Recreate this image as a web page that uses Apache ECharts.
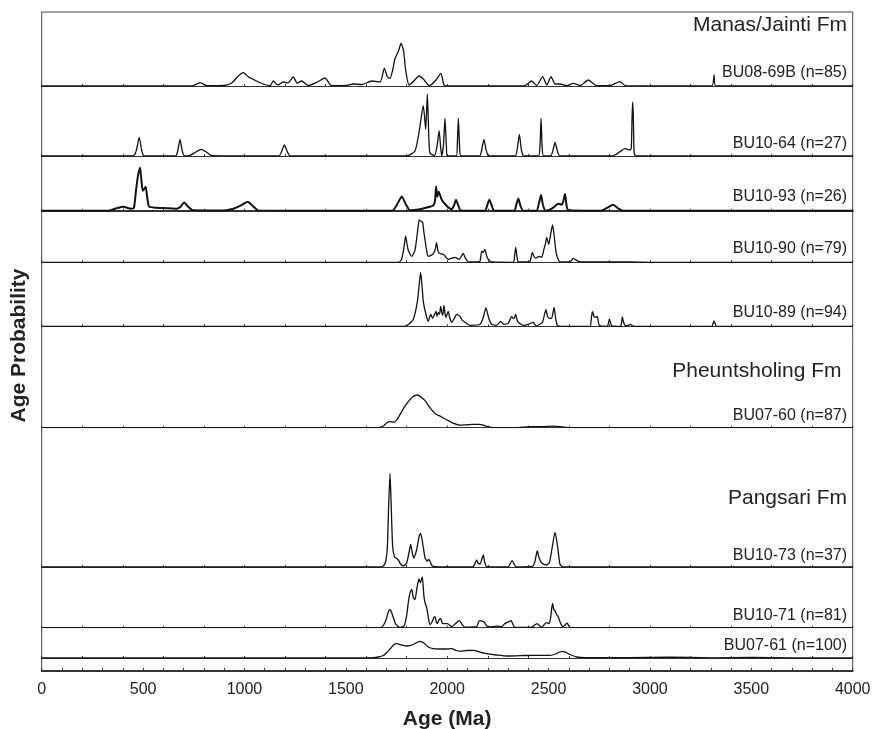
<!DOCTYPE html>
<html>
<head>
<meta charset="utf-8">
<script src="https://cdn.jsdelivr.net/npm/echarts@6/dist/echarts.min.js"></script>
<style>
html, body { margin: 0; padding: 0; background: #fff; }
#chart { width: 875px; height: 729px; }
</style>
</head>
<body>
<div id="chart"></div>
<script>
// detrital zircon age probability curves, [age (Ma), relative probability]
const sampleNames = [
  'BU08-69B (n=85)', 'BU10-64 (n=27)', 'BU10-93 (n=26)', 'BU10-90 (n=79)', 'BU10-89 (n=94)',
  'BU07-60 (n=87)', 'BU10-73 (n=37)', 'BU10-71 (n=81)', 'BU07-61 (n=100)'
]
const formations = ['Manas/Jainti Fm', 'Pheuntsholing Fm', 'Pangsari Fm']
const xTickLabels = [0, 500, 1000, 1500, 2000, 2500, 3000, 3500, 4000]

const bu0869b = [[0,0],[740,0],[781,3.3],[815,0.3],[900,0.5],[937,3],[970,10],[994,13.3],[1020,9],[1043,6.7],[1080,3],[1126,0.3],[1142,5],[1165,1],[1192,4],[1215,3],[1241,9],[1260,3],[1282,5],[1314,0.5],[1360,4],[1397,8],[1430,0.3],[1500,0.5],[1536,2],[1580,1.5],[1628,5],[1669,4],[1690,17.7],[1705,9],[1718,7.7],[1730,15],[1743,27.7],[1760,35],[1772,42.7],[1785,35],[1795,16],[1812,1],[1840,6],[1861,10],[1882,7],[1912,0.3],[1945,6],[1969,12.7],[1984,1],[2000,0],[2380,0],[2417,5],[2441,0.5],[2471,9.3],[2491,1],[2512,9.3],[2532,2],[2556,2],[2590,0.3],[2622,2.7],[2655,0.5],[2696,6],[2737,0.3],[2800,0.3],[2852,4.3],[2880,0.3],[3305,0],[3316,11],[3325,0],[4000,0]]
const bu1064 = [[0,0],[450,0],[466,5],[481,18.7],[494,5],[505,0],[660,0],[672,6],[682,16.7],[692,6],[705,0],[730,0.5],[760,4],[786,6.7],[812,4],[840,0.3],[1170,0],[1184,5],[1197,11],[1210,5],[1225,0],[1800,0],[1841,5],[1862,25],[1882,50.3],[1894,26.7],[1902,62],[1910,15],[1915,3],[1938,0.5],[1950,10],[1960,25.3],[1968,8],[1973,0],[1982,12],[1989,37.7],[1996,10],[2001,0],[2045,0],[2050,12],[2055,37.7],[2061,10],[2068,0],[2160,0],[2170,6],[2181,16.7],[2192,6],[2205,0],[2335,0],[2346,8],[2356,21.7],[2366,6],[2378,0],[2450,0],[2458,12],[2463,37.7],[2468,10],[2475,0],[2510,0],[2522,6],[2532,13.7],[2542,6],[2556,0],[2800,0],[2827,1],[2850,4],[2877,7.3],[2902,6],[2908,8],[2912,40],[2915,54],[2918,40],[2922,3],[2930,0],[4000,0]]
const bu1093 = [[0,0],[330,0],[370,2.5],[402,4],[440,2],[455,3],[465,20],[475,35],[485,43],[492,30],[498,20],[506,22],[513,24],[520,14],[530,4],[567,3],[616,2.5],[666,2],[685,4],[703,8.3],[722,4],[745,0.5],[900,0.3],[945,2],[980,5],[1016,9],[1040,5],[1068,0.3],[1720,0],[1734,0.5],[1755,7],[1776,14.3],[1797,6],[1817,0.5],[1866,1.5],[1915,4],[1931,5],[1940,10],[1945,24.3],[1951,14],[1958,19],[1973,11],[1997,5],[2022,1.5],[2035,6],[2043,11],[2055,5],[2067,0.3],[2186,0],[2198,6],[2208,11],[2220,5],[2231,0],[2330,0],[2341,6],[2351,12.3],[2361,5],[2375,0],[2440,0],[2453,8],[2463,15.7],[2472,6],[2485,0],[2500,0.5],[2523,3],[2548,7],[2565,6],[2573,10],[2581,16.7],[2589,5],[2597,0.5],[2760,0],[2790,3],[2818,6],[2845,2],[2867,0],[4000,0]]
const bu1090 = [[0,0],[1760,0],[1775,3],[1787,15],[1795,26.3],[1802,18],[1808,12],[1825,6],[1841,12],[1852,28],[1862,42.3],[1870,41],[1879,40],[1885,30],[1891,22],[1900,10],[1907,6],[1920,7],[1928,8],[1940,12],[1947,19.7],[1954,12],[1961,9],[1981,8],[2005,3],[2038,5],[2060,3],[2070,6],[2079,9],[2090,4],[2104,0.5],[2150,0.5],[2162,1],[2170,11],[2178,10],[2186,13],[2195,6],[2203,3],[2219,0.3],[2326,0],[2332,6],[2338,15],[2344,6],[2351,0.3],[2400,0.3],[2408,0.5],[2415,6],[2420,10],[2428,6],[2437,4],[2453,6],[2466,5],[2477,13],[2484,18],[2491,25],[2501,18],[2510,28],[2520,37.3],[2530,22],[2537,10],[2547,3],[2556,0.5],[2606,0.5],[2622,4],[2647,1],[2688,0.3],[2900,0.3],[3000,0],[4000,0]]
const bu1089 = [[0,0],[1790,0],[1810,2],[1833,7],[1853,25],[1862,42],[1869,54],[1876,40],[1882,25],[1895,12],[1907,5],[1913,9],[1919,12],[1928,8],[1938,12],[1945,15],[1950,10],[1956,14],[1962,12],[1968,20],[1973,14],[1978,11],[1984,21],[1989,13],[1994,9],[2005,15],[2012,9],[2022,4],[2035,8],[2047,12],[2055,11],[2063,10],[2075,6],[2088,4],[2112,1],[2162,2],[2178,9],[2191,18.3],[2205,8],[2219,2],[2244,1],[2264,5],[2280,2],[2301,3],[2310,7],[2318,10],[2324,8],[2330,8],[2338,12],[2345,6],[2351,4],[2375,1],[2400,2],[2425,4],[2438,0.5],[2454,1.5],[2470,4],[2480,12],[2487,16.7],[2495,10],[2503,8],[2515,8],[2527,19],[2535,8],[2543,1],[2560,0],[2704,0],[2710,6],[2716,15],[2724,10],[2731,9],[2740,10],[2745,5],[2750,1],[2790,0],[2795,3],[2800,7.5],[2806,3],[2812,0.5],[2855,0],[2860,4],[2864,9.5],[2870,4],[2880,0.5],[2895,1],[2903,2],[2915,0.5],[2926,0],[3305,0],[3312,3],[3316,5.5],[3321,3],[3328,0],[4000,0]]
const bu0760 = [[0,0],[1620,0],[1669,0.3],[1690,2.5],[1702,5],[1718,6],[1738,5.5],[1752,8],[1767,13],[1787,20],[1808,26],[1830,31],[1853,32.7],[1872,30.5],[1891,27],[1915,20],[1940,14.3],[1970,11],[1997,8],[2030,4.5],[2063,2.5],[2100,3],[2129,3.3],[2160,3.3],[2178,2.5],[2200,1],[2227,0],[2326,0],[2370,0.5],[2408,1],[2470,1],[2523,1.5],[2560,1],[2606,0],[4000,0]]
const bu1073 = [[0,0],[1660,0],[1685,1],[1697,6],[1705,20],[1711,60],[1718,93.7],[1724,60],[1731,20],[1740,10],[1748,9],[1759,7],[1770,3],[1783,1],[1800,4],[1812,15],[1820,22.7],[1828,14],[1836,9],[1850,18],[1862,31],[1869,33.7],[1878,25],[1891,9],[1902,6],[1908,7.5],[1915,6],[1923,2],[1931,0.5],[1960,0],[2120,0],[2129,0.3],[2138,4],[2145,7],[2152,4],[2162,3],[2171,8],[2178,12],[2185,5],[2195,0.3],[2300,0],[2310,3],[2320,6.3],[2330,3],[2339,0],[2420,0.5],[2432,5],[2440,13],[2444,16],[2452,10],[2466,4],[2491,2],[2505,5],[2518,20],[2532,34.7],[2545,20],[2556,3],[2571,0],[4000,0]]
const bu1071 = [[0,0],[1660,0],[1677,0.5],[1695,6],[1710,16],[1718,18.3],[1728,14],[1745,4],[1767,0.3],[1788,2],[1800,12],[1808,25],[1817,35],[1825,38.3],[1833,30],[1841,28],[1851,40],[1861,48.7],[1868,45],[1877,50.7],[1882,40],[1886,30],[1892,24],[1899,20],[1907,10],[1915,3],[1928,7],[1935,10.5],[1940,11],[1946,6],[1951,4],[1960,8],[1968,9],[1975,5],[1981,4],[2001,4],[2022,1],[2040,4],[2060,7],[2075,3],[2088,0.5],[2145,1],[2155,6],[2162,7],[2172,6.5],[2181,6],[2192,2.5],[2203,0.5],[2244,1.5],[2269,1],[2283,4],[2293,5],[2305,6],[2315,7],[2325,3],[2334,0.3],[2417,0.5],[2430,2.5],[2444,4],[2455,2],[2466,0.5],[2480,3.5],[2491,5],[2503,4],[2510,10],[2516,20],[2520,24.3],[2526,18],[2532,17],[2540,13],[2548,11],[2558,5],[2571,1],[2582,3],[2592,4.5],[2600,2],[2606,0.3],[2630,0],[4000,0]]
const bu0761 = [[0,0],[1560,0],[1636,0.3],[1660,1],[1685,2.5],[1700,5],[1718,9],[1735,13],[1751,14.3],[1775,13],[1800,12],[1833,13.5],[1850,15.5],[1866,16.7],[1885,15],[1907,11],[1931,9.3],[1960,9],[1990,9],[2022,9.3],[2045,7.5],[2063,6.7],[2095,7.5],[2129,7.7],[2160,6],[2195,4.3],[2244,3],[2293,2],[2340,2.2],[2380,2.5],[2425,2.7],[2470,2.7],[2507,2.7],[2535,4],[2555,6],[2573,6.7],[2600,4],[2639,1],[2680,0.3],[2900,0.3],[3100,0.8],[3300,0.2],[3500,0.5],[3700,0],[4000,0]]

const curves = [bu0869b, bu1064, bu1093, bu1090, bu1089, bu0760, bu1073, bu1071, bu0761]

// layout (px)
const W = 875, H = 729
const PLOT_L = 41.7, PLOT_R = 852.7, PLOT_T = 12, AXIS_Y = 671
const BASE_Y = [86, 156, 210.7, 262.3, 326.3, 427.7, 567, 627.7, 658]
const LABEL_Y = [74, 145, 197.5, 249.5, 314, 416.5, 556.5, 616.5, 646.5]
const FORM_Y = [26.7, 372.5, 500]
const FORM_R = [28, 33.5, 28]
const LINE_W = [1.3, 1.3, 2, 1.3, 1.3, 1.3, 1.3, 1.3, 1.3]

const FONT = '"Liberation Sans", Arial, Helvetica, sans-serif'
const INK = '#111'

const chart = echarts.init(document.getElementById('chart'))

const grids = [], xAxes = [], yAxes = [], series = []
curves.forEach((data, i) => {
  grids.push({
    left: PLOT_L, right: W - PLOT_R, top: PLOT_T, bottom: H - BASE_Y[i],
    outerBoundsMode: 'none', containLabel: false
  })
  xAxes.push({
    gridIndex: i, type: 'value', min: 0, max: 4000, interval: 200,
    axisLine: { show: true, lineStyle: { color: '#333', width: i === 2 ? 2 : 1 } },
    axisTick: { show: true, inside: true, length: 2, lineStyle: { color: '#333' } },
    axisLabel: { show: false }, splitLine: { show: false }
  })
  yAxes.push({ gridIndex: i, type: 'value', min: 0, max: BASE_Y[i] - PLOT_T, show: false })
  series.push({
    type: 'line', xAxisIndex: i, yAxisIndex: i, data, showSymbol: false, smooth: 0.2,
    silent: true, lineStyle: { color: INK, width: LINE_W[i] }
  })
})

// outer frame + age axis
const k = curves.length
grids.push({
  left: PLOT_L, right: W - PLOT_R, top: PLOT_T, bottom: H - AXIS_Y,
  outerBoundsMode: 'none', containLabel: false,
  show: true, borderColor: '#444', borderWidth: 1, backgroundColor: 'transparent'
})
xAxes.push({
  gridIndex: k, type: 'value', min: 0, max: 4000, interval: 100,
  axisLine: { show: true, lineStyle: { color: '#333', width: 2 } },
  axisTick: { show: true, inside: true, length: 3, lineStyle: { color: '#333' } },
  axisLabel: {
    margin: 11, color: '#222', fontSize: 16, fontFamily: FONT,
    showMinLabel: true, showMaxLabel: true,
    formatter: v => (xTickLabels.includes(v) ? String(v) : '')
  },
  splitLine: { show: false },
  name: 'Age (Ma)', nameLocation: 'middle', nameGap: 38,
  nameTextStyle: { color: '#222', fontSize: 21, fontWeight: 'bold', fontFamily: FONT }
})
yAxes.push({ gridIndex: k, type: 'value', min: 0, max: 1, show: false })

const graphics = []
sampleNames.forEach((t, i) => {
  graphics.push({
    type: 'text', right: 28, top: LABEL_Y[i] - 9,
    style: { text: t, fontSize: 16, fontFamily: FONT, fill: '#222' }
  })
})
formations.forEach((t, i) => {
  graphics.push({
    type: 'text', right: FORM_R[i], top: FORM_Y[i] - 12,
    style: { text: t, fontSize: 21, fontFamily: FONT, fill: '#222' }
  })
})
graphics.push({
  type: 'text', x: 19, y: 345.5, rotation: Math.PI / 2,
  style: {
    text: 'Age Probability', fontSize: 21, fontWeight: 'bold', fontFamily: FONT, fill: '#222',
    align: 'center', verticalAlign: 'middle'
  }
})

chart.setOption({
  animation: false,
  backgroundColor: '#fff',
  grid: grids,
  xAxis: xAxes,
  yAxis: yAxes,
  series,
  graphic: graphics
})
</script>
</body>
</html>
